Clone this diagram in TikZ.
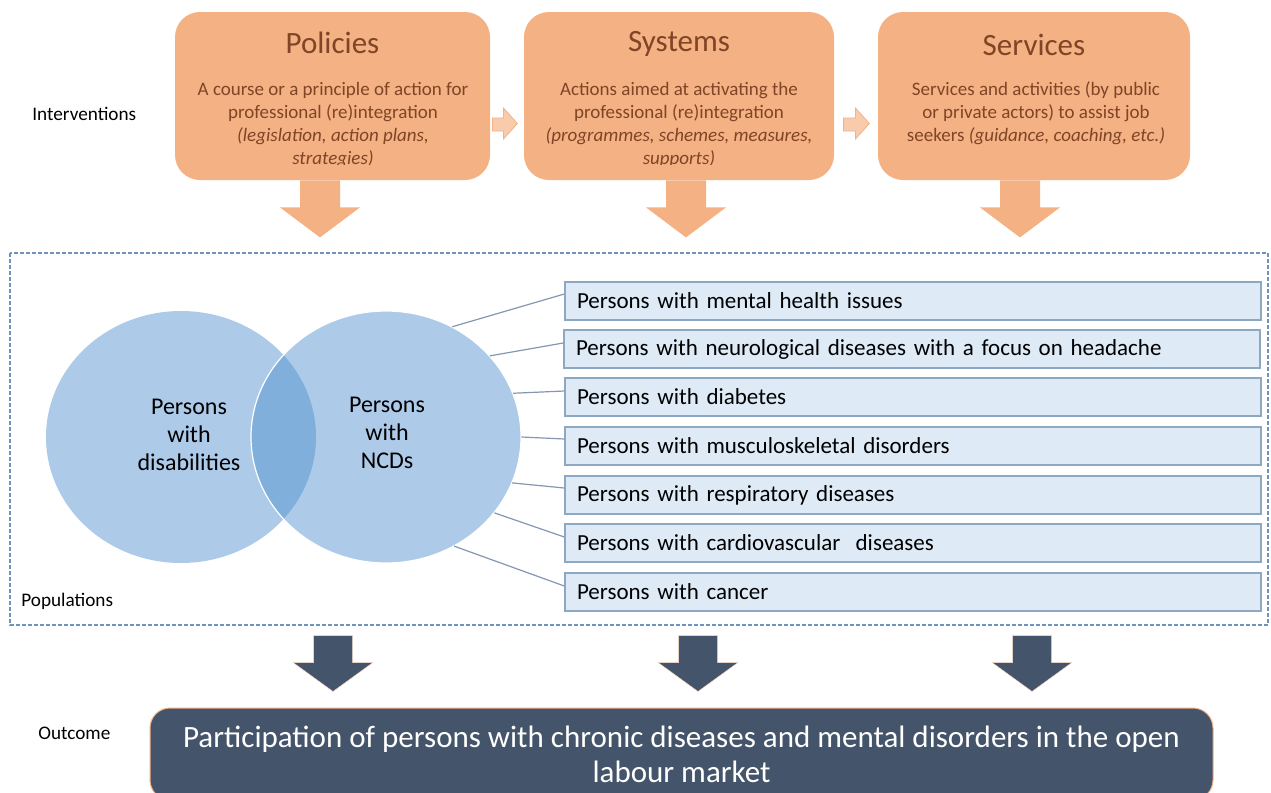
\documentclass[tikz,border=0pt]{standalone}
\usepackage{fontspec}
\setmainfont{Carlito}
\usetikzlibrary{calc,shapes.geometric}
\definecolor{ivfill}{HTML}{F4B183}
\definecolor{ivlight}{HTML}{F8CBAD}
\definecolor{ivtextc}{HTML}{7F4526}
\definecolor{vennc}{HTML}{ADCBE9}
\definecolor{venncore}{HTML}{80AFDC}
\definecolor{mfill}{HTML}{DEEAF6}
\definecolor{mline}{HTML}{8FA8C2}
\definecolor{connc}{HTML}{8497B0}
\definecolor{popline}{HTML}{6E93BD}
\definecolor{navy}{HTML}{44546A}
\begin{document}
\begin{tikzpicture}[x=0.5pt,y=-0.5pt]
      \tikzstyle{ivbox}=[fill=ivfill,rounded corners=12.5pt,minimum width=157.5pt,minimum height=84pt,inner sep=0pt]
      \tikzstyle{ivhead}=[text=ivtextc,font=\fontsize{15.5}{18}\selectfont]
      \tikzstyle{ivtext}=[text=ivtextc,align=center,font=\fontsize{9.5}{11.5}\selectfont]
      \tikzstyle{ivarrow}=[fill=ivfill]
      \tikzstyle{sidearrow}=[fill=ivlight,draw=ivfill,line width=0.4pt]
      \tikzstyle{venn}=[ellipse,fill=vennc,minimum width=135pt,minimum height=126pt,inner sep=0pt]
      \tikzstyle{venntext}=[align=center,font=\fontsize{12}{14}\selectfont]
      \tikzstyle{mbox}=[draw=mline,fill=mfill,line width=0.7pt,minimum width=348pt,minimum height=19pt,text width=336pt,align=left,inner xsep=6pt,font=\fontsize{11.5}{13}\selectfont]
      \tikzstyle{conn}=[draw=connc,line width=0.6pt]
      \tikzstyle{lbl}=[anchor=west,font=\fontsize{9.6}{11}\selectfont,inner sep=0pt]
      \tikzstyle{navyarrow}=[fill=navy,draw=ivlight!70,line width=0.25pt]
      \useasboundingbox (0,0) rectangle (1271,793);
      % interventions
      \node[ivbox] (pol) at (332.5,96) {};
      \node[ivbox,minimum width=155pt] (sys) at (679,96) {};
      \node[ivbox,minimum width=156pt] (ser) at (1034,96) {};
      \node[ivhead] (polhead) at (332.5,43) {Policies};
      \node[ivhead] (syshead) at (679,44) {Systems};
      \node[ivhead] (serhead) at (1034,45) {Services};
      \begin{scope}
        \clip (175,12) rectangle (1190,164);
        \node[ivtext] (poltext) at (333,125) {A course or a principle of action for\\ professional (re)integration\\ \textit{(legislation, action plans,}\\ \textit{strategies)}};
        \node[ivtext] (systext) at (679,125) {Actions aimed at activating the\\ professional (re)integration\\ \textit{(programmes, schemes, measures,}\\ \textit{supports)}};
        \node[ivtext] (sertext) at (1036,113) {Services and activities (by public\\ or private actors) to assist job\\ seekers \textit{(guidance, coaching, etc.)}};
      \end{scope}
      \path[sidearrow] ($(pol.east)+(2,22)$) -- ++(11,0) -- ++(0,-10) -- ++(14,15.5) -- ++(-14,15.5) -- ++(0,-8) -- ++(-11,0) -- cycle;
      \path[sidearrow] ($(sys.east)+(9,22)$) -- ++(12,0) -- ++(0,-10) -- ++(14,15.5) -- ++(-14,15.5) -- ++(0,-8) -- ++(-12,0) -- cycle;
      \path[ivarrow] ($(pol.south)+(-32.5,0)$) -- ++(40,0) -- ++(0,27) -- ++(20,0) -- ++(-40,30) -- ++(-40,-30) -- ++(20,0) -- cycle;
      \path[ivarrow] ($(sys.south)+(-13,0)$) -- ++(40,0) -- ++(0,27) -- ++(20,0) -- ++(-40,30) -- ++(-40,-30) -- ++(20,0) -- cycle;
      \path[ivarrow] ($(ser.south)+(-34,0)$) -- ++(40,0) -- ++(0,27) -- ++(20,0) -- ++(-40,30) -- ++(-40,-30) -- ++(20,0) -- cycle;
      \node[lbl] (intlabel) at (32,114) {Interventions};
      % populations
      \path[draw=popline,line width=0.7pt,dash pattern=on 2pt off 1pt] (10,253) rectangle (1268,625);
      \node[lbl] (poplabel) at (21,601) {Populations};
      \node[venn] (dis) at (181,437) {};
      \node[venn] (ncd) at (386,437) {};
      \begin{scope}
        \clip (181,437) ellipse (67.5pt and 63pt);
        \fill[venncore] (386,437) ellipse (67.5pt and 63pt);
      \end{scope}
      \path[draw=white,line width=0.6pt] (386,437) ellipse (67.5pt and 63pt);
      \node[venntext] (distext) at (189,435) {Persons\\ with\\ disabilities};
      \node[venntext] (ncdtext) at (387,433) {Persons\\ with\\ NCDs};
      \node[mbox] (m1) at (913,301) {Persons with mental health issues};
      \node[mbox] (m2) at (912,349) {Persons with neurological diseases with a focus on headache};
      \node[mbox] (m3) at (913,397) {Persons with diabetes};
      \node[mbox] (m4) at (913,446) {Persons with musculoskeletal disorders};
      \node[mbox] (m5) at (913,495) {Persons with respiratory diseases};
      \node[mbox] (m6) at (913,543) {Persons with cardiovascular\ \ diseases};
      \node[mbox] (m7) at (913,592) {Persons with cancer};
      \path[conn] (ncd.59) -- ($(m1.west)+(0,-7)$);
      \path[conn] (ncd.38) -- ($(m2.west)+(0,-6)$);
      \path[conn] (ncd.19) -- ($(m3.west)+(0,-6)$);
      \path[conn] (ncd.0) -- ($(m4.west)+(0,-7)$);
      \path[conn] (ncd.-20) -- ($(m5.west)+(0,-7)$);
      \path[conn] (ncd.-35) -- ($(m6.west)+(0,-6)$);
      \path[conn] (ncd.-58) -- ($(m7.west)+(0,-6)$);
      % outcome
      \node[fill=navy,draw=ivfill,line width=0.5pt,rounded corners=10pt,minimum width=531.5pt,minimum height=46pt,text=white,align=center,font=\fontsize{15.5}{17.5}\selectfont] (out) at (681.5,754) {Participation of persons with chronic diseases and mental disorders in the open\\ labour market};
      \node[lbl] (outlabel) at (38,733) {Outcome};
      \path[navyarrow] ($(out.north)+(-368,-72)$) -- ++(39,0) -- ++(0,27) -- ++(20.5,0) -- ++(-40,29) -- ++(-40,-29) -- ++(20.5,0) -- cycle;
      \path[navyarrow] ($(out.north)+(-3,-72)$) -- ++(39,0) -- ++(0,27) -- ++(20.5,0) -- ++(-40,29) -- ++(-40,-29) -- ++(20.5,0) -- cycle;
      \path[navyarrow] ($(out.north)+(331,-72)$) -- ++(39,0) -- ++(0,27) -- ++(20.5,0) -- ++(-40,29) -- ++(-40,-29) -- ++(20.5,0) -- cycle;
    \end{tikzpicture}
\end{document}
